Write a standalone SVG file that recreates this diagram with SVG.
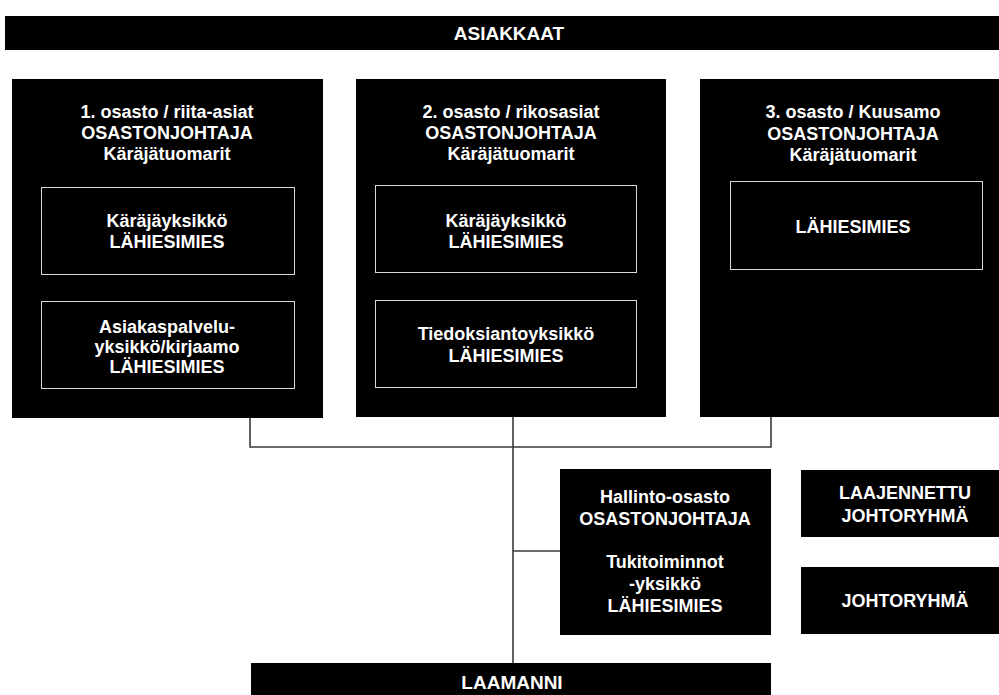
<svg xmlns="http://www.w3.org/2000/svg" width="999" height="695" viewBox="0 0 999 695">
<style>
.blk{fill:#000}
.inner{fill:none;stroke:#d8d8d8;stroke-width:1}
text{font-family:"Liberation Sans",Arial,sans-serif;font-weight:bold;fill:#fff;text-anchor:middle;font-size:18px}
.big{font-size:19px}
.conn{fill:none;stroke:#3a3a3a;stroke-width:1.6}
</style>
<rect width="999" height="695" fill="#fff"/>
<g id="connectors">
<path class="conn" d="M250 418 V447 H771 V417"/>
<path class="conn" d="M513 417 V663"/>
<path class="conn" d="M513 551 H560"/>
</g>
<g id="asiakkaat">
<rect class="blk" x="5" y="16" width="994" height="34"/>
<text class="big" x="509" y="40">ASIAKKAAT</text>
</g>
<g id="osasto1">
<rect class="blk" x="12" y="79" width="311" height="339"/>
<text x="167" y="118">1. osasto / riita-asiat</text>
<text x="167" y="139">OSASTONJOHTAJA</text>
<text x="167" y="160">Käräjätuomarit</text>
</g>
<g id="osasto1-karajayksikko">
<rect class="inner" x="41.5" y="187.5" width="253" height="87"/>
<text x="167" y="227">Käräjäyksikkö</text>
<text x="167" y="248">LÄHIESIMIES</text>
</g>
<g id="osasto1-asiakaspalvelu">
<rect class="inner" x="41.5" y="301.5" width="253" height="87"/>
<text x="167" y="333">Asiakaspalvelu-</text>
<text x="167" y="353">yksikkö/kirjaamo</text>
<text x="167" y="373">LÄHIESIMIES</text>
</g>
<g id="osasto2">
<rect class="blk" x="356" y="79" width="310" height="338"/>
<text x="511" y="118">2. osasto / rikosasiat</text>
<text x="511" y="139">OSASTONJOHTAJA</text>
<text x="511" y="160">Käräjätuomarit</text>
</g>
<g id="osasto2-karajayksikko">
<rect class="inner" x="375.5" y="185.5" width="261" height="87"/>
<text x="506" y="227">Käräjäyksikkö</text>
<text x="506" y="248">LÄHIESIMIES</text>
</g>
<g id="osasto2-tiedoksianto">
<rect class="inner" x="375.5" y="300.5" width="261" height="87"/>
<text x="506" y="340">Tiedoksiantoyksikkö</text>
<text x="506" y="362">LÄHIESIMIES</text>
</g>
<g id="osasto3">
<rect class="blk" x="700" y="79" width="299" height="338"/>
<text x="853" y="118">3. osasto / Kuusamo</text>
<text x="853" y="140">OSASTONJOHTAJA</text>
<text x="853" y="161">Käräjätuomarit</text>
</g>
<g id="osasto3-lahiesimies">
<rect class="inner" x="730.5" y="181.5" width="252" height="88"/>
<text x="853" y="233">LÄHIESIMIES</text>
</g>
<g id="hallinto">
<rect class="blk" x="560" y="469" width="211" height="166"/>
<text x="665" y="503">Hallinto-osasto</text>
<text x="665" y="525">OSASTONJOHTAJA</text>
<text x="665" y="568">Tukitoiminnot</text>
<text x="665" y="590">-yksikkö</text>
<text x="665" y="612">LÄHIESIMIES</text>
</g>
<g id="laajennettu">
<rect class="blk" x="801" y="470" width="198" height="67"/>
<text x="905" y="499">LAAJENNETTU</text>
<text x="905" y="522">JOHTORYHMÄ</text>
</g>
<g id="johtoryhma">
<rect class="blk" x="801" y="567" width="198" height="67"/>
<text x="905" y="607">JOHTORYHMÄ</text>
</g>
<g id="laamanni">
<rect class="blk" x="251" y="663" width="520" height="32"/>
<text class="big" x="512" y="689">LAAMANNI</text>
</g>
</svg>
